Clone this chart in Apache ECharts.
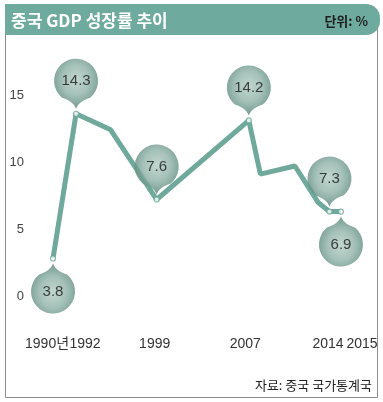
<!DOCTYPE html>
<html><head><meta charset="utf-8">
<script src="https://cdn.jsdelivr.net/npm/echarts@6/dist/echarts.min.js"></script>
<style>html,body{margin:0;padding:0;background:#fff}#c{width:383px;height:402px}</style>
</head>
<body><div id="c"></div>
<script>
// ---- data ----
const years = [1990, 1992, 1995, 1999, 2007, 2008, 2011, 2013, 2014, 2015];
const growth = [2.8, 13.6, 12.4, 7.2, 13.1, 9.1, 9.7, 7.0, 6.3, 6.3];
const pinYears = [1990, 1992, 1999, 2007, 2014, 2015];
const pinTexts = ['3.8', '14.3', '7.6', '14.2', '7.3', '6.9'];
const upPinYears = [1990, 2015];
const xTickYears = [1990, 1992, 1999, 2007, 2014, 2015];
const xTickTexts = ['1990년', '1992', '1999', '2007', '2014', '2015'];
const yTickValues = [0, 5, 10, 15];

// ---- style ----
const FONT = "'Liberation Sans','Noto Sans CJK KR',sans-serif";
const KFONT = "'Noto Sans CJK KR','Liberation Sans',sans-serif";
const TEAL = '#6ea99c';
const PIN_DOWN = 'path://M22 50 C20 44 14 41 8 39 A22 22 0 1 1 36 39 C30 41 24 44 22 50 Z';
const PIN_UP = 'path://M22 0 C20 6 14 9 8 11 A22 22 0 1 0 36 11 C30 9 24 6 22 0 Z';
const xShift = [
  {padding: [0, 12, 0, 0]},
  {padding: [0, 0, 0, 18]},
  {padding: [0, 4, 0, 0]},
  {padding: [0, 7, 0, 0]},
  {padding: [0, 3, 0, 0]},
  {padding: [0, 0, 0, 42]}
];

function pinGradient(cy) {
  return {
    type: 'radial', x: 0.5, y: cy, r: 0.6,
    colorStops: [
      {offset: 0, color: '#b2ccc4'},
      {offset: 0.5, color: '#8fb2a7'},
      {offset: 1, color: '#4d7e71'}
    ]
  };
}

const lineData = years.map((y, i) => [y, growth[i]]);
const valOf = y => growth[years.indexOf(y)];
const dotData = pinYears.map(y => [y, valOf(y)]);
const downData = pinYears.filter(y => upPinYears.indexOf(y) < 0).map(y => [y, valOf(y)]);
const upData = pinYears.filter(y => upPinYears.indexOf(y) >= 0).map(y => [y, valOf(y)]);
const pinLabel = p => pinTexts[pinYears.indexOf(p.value[0])];

const rich = {};
xShift.forEach((s, i) => { rich['k' + i] = Object.assign({fontSize: 14, color: '#333', fontFamily: FONT}, s); });

const chart = echarts.init(document.getElementById('c'), null, {renderer: 'canvas'});
chart.setOption({
  animation: false,
  backgroundColor: '#ffffff',
  graphic: [
    {type: 'rect', z: 0, shape: {x: 5.5, y: 20, width: 372, height: 377.5},
     style: {fill: 'none', stroke: '#8c8c8c', lineWidth: 1}},
    {type: 'rect', z: 1, shape: {x: 5, y: 4, width: 375, height: 31, r: [0, 14, 14, 0]},
     style: {fill: '#6eab9e'}}
  ],
  title: [
    {text: '중국 GDP 성장률 추이', left: 6, top: 7,
     textStyle: {color: '#ffffff', fontSize: 17, fontWeight: 'bold', fontFamily: KFONT}},
    {text: '단위: %', right: 10, top: 10,
     textStyle: {color: '#1e1e1e', fontSize: 13, fontWeight: 'bold', fontFamily: KFONT}},
    {text: '자료: 중국 국가통계국', right: 6, top: 374,
     textStyle: {color: '#222', fontSize: 13, fontWeight: 'normal', fontFamily: KFONT}}
  ],
  grid: {left: 30, right: 19, top: 28, bottom: 39},
  xAxis: {
    type: 'value', min: 1988, max: 2017, interval: 1, offset: -32,
    axisLine: {show: false}, axisTick: {show: false}, splitLine: {show: false},
    axisLabel: {
      margin: 6, fontSize: 14, color: '#333', fontFamily: FONT,
      formatter: v => {
        const i = xTickYears.indexOf(v);
        return i < 0 ? '' : '{k' + i + '|' + xTickTexts[i] + '}';
      },
      rich: rich
    }
  },
  yAxis: {
    type: 'value', min: -5, max: 20, interval: 5,
    axisLine: {show: false}, axisTick: {show: false}, splitLine: {show: false},
    axisLabel: {
      margin: 6, fontSize: 13, color: '#444', fontFamily: FONT,
      formatter: v => yTickValues.indexOf(v) >= 0 ? String(v) : ''
    }
  },
  series: [
    {type: 'line', data: lineData, showSymbol: false, z: 2,
     lineStyle: {color: TEAL, width: 5}, itemStyle: {color: TEAL}},
    {type: 'scatter', data: dotData, z: 3, symbol: 'circle', symbolSize: 5,
     itemStyle: {color: '#ffffff', borderColor: TEAL, borderWidth: 1.2}},
    {type: 'scatter', data: downData, z: 4, symbol: PIN_DOWN, symbolSize: [44, 50],
     symbolOffset: [0, -30],
     itemStyle: {color: pinGradient(0.42)},
     label: {show: true, position: 'inside', offset: [0, -3], formatter: pinLabel,
             fontSize: 15, color: '#161616', fontFamily: FONT}},
    {type: 'scatter', data: upData, z: 4, symbol: PIN_UP, symbolSize: [44, 50],
     symbolOffset: [0, 30],
     itemStyle: {color: pinGradient(0.58)},
     label: {show: true, position: 'inside', offset: [0, 3], formatter: pinLabel,
             fontSize: 15, color: '#161616', fontFamily: FONT}}
  ]
});
</script>
</body></html>
